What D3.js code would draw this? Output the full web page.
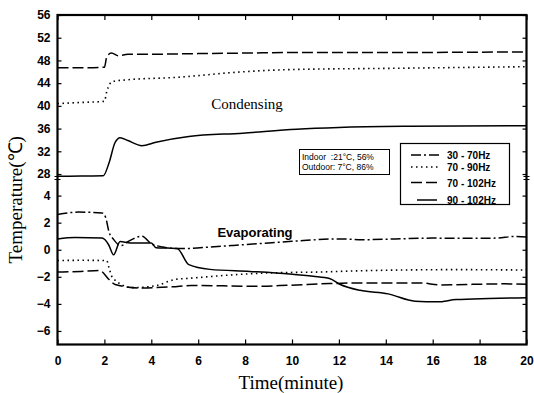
<!DOCTYPE html>
<html><head><meta charset="utf-8">
<script src="https://cdn.jsdelivr.net/npm/d3@7"></script>
<style>body{margin:0;background:#fff}</style>
</head><body>
<script>
// ---- data ----
const cond70_102_t = [0, 1.0, 2.0, 2.1, 2.3, 2.6, 3.0, 4.0, 6.0, 8.0, 10.0, 14.0, 20.0];
const cond70_102_v = [46.7, 46.7, 46.8, 48.6, 49.3, 48.8, 49.1, 49.1, 49.2, 49.3, 49.4, 49.4, 49.5];
const cond70_90_t = [0, 1.0, 2.0, 2.1, 2.35, 3.0, 5.0, 7.9, 10.0, 14.0, 20.0];
const cond70_90_v = [40.4, 40.6, 40.8, 42.5, 44.3, 44.6, 45.0, 46.0, 46.4, 46.6, 46.9];
const cond90_102_t = [0, 1.0, 1.95, 2.2, 2.45, 2.67, 3.0, 3.6, 4.2, 5.6, 7.9, 10.2, 12.0, 15.0, 20.0];
const cond90_102_v = [27.6, 27.65, 27.7, 30.0, 33.5, 34.4, 33.9, 33.0, 33.6, 34.6, 35.2, 35.9, 36.2, 36.4, 36.5];

const evap30_70_t = [0, 0.9, 1.9, 2.05, 2.2, 2.4, 2.7, 3.0, 3.6, 4.0, 4.5, 5.0, 5.6, 6.5, 7.5, 9.0, 10.0, 12.0, 13.0, 14.4, 16.0, 17.4, 18.7, 19.5, 20.0];
const evap30_70_v = [2.6, 2.78, 2.72, 2.4, 1.3, 0.75, 0.3, 0.6, 1.0, 0.45, 0.2, 0.1, 0.1, 0.2, 0.32, 0.5, 0.62, 0.8, 0.74, 0.8, 0.86, 0.84, 0.86, 0.98, 0.95];
const evap70_90_t = [0, 1.0, 2.1, 2.2, 2.35, 3.2, 4.2, 5.0, 5.7, 7.1, 8.9, 11.3, 13.0, 17.0, 20.0];
const evap70_90_v = [-0.8, -0.78, -0.8, -1.35, -2.08, -2.8, -2.65, -2.2, -2.1, -1.9, -1.72, -1.64, -1.55, -1.47, -1.5];
const evap70_102_t = [0, 1.0, 1.8, 2.2, 2.46, 3.46, 4.9, 5.7, 8.5, 9.9, 11.6, 13.0, 15.5, 16.3, 19.0, 20.0];
const evap70_102_v = [-1.65, -1.6, -1.54, -2.2, -2.57, -2.82, -2.74, -2.64, -2.7, -2.62, -2.5, -2.45, -2.45, -2.6, -2.52, -2.55];
const evap90_102_t = [0, 0.75, 1.9, 2.18, 2.39, 2.67, 3.1, 4.0, 4.2, 4.7, 5.1, 5.6, 6.5, 8.2, 9.9, 10.9, 11.6, 12.06, 12.9, 14.1, 15.25, 16.2, 17.0, 18.4, 20.0];
const evap90_102_v = [0.8, 0.9, 0.86, 0.37, -0.37, 0.6, 0.5, 0.5, 0.15, 0.12, 0.1, -1.1, -1.45, -1.6, -1.79, -1.96, -2.13, -2.57, -3.0, -3.26, -3.8, -3.85, -3.68, -3.6, -3.55];

const xTicks = [0, 2, 4, 6, 8, 10, 12, 14, 16, 18, 20];
const yTicksTop = [28, 32, 36, 40, 44, 48, 52, 56];
const yTicksBottom = [-6, -4, -2, 0, 2, 4];
const legendLabels = ["30 - 70Hz", "70 - 90Hz", "70 - 102Hz", "90 - 102Hz"];
const infoLines = ["Indoor  :21°C, 56%", "Outdoor: 7°C, 86%"];

// ---- layout ----
const W = 534, H = 393;
const L = 57.5, R = 526.5, T = 15, B = 344.5, SEAM = 178;
const svg = d3.select("body").append("svg").attr("width", W).attr("height", H);

const x = d3.scaleLinear().domain([0, 20]).range([L, R]);
const yTop = d3.scaleLinear().domain([27.3, 56]).range([SEAM, T]);
const yBot = d3.scaleLinear().domain([-7, 5.3]).range([B, SEAM]);

const dash = {
  dashdot: "10,3,2,3",
  dotted: "1.5,3.5",
  dashed: "11,4",
  solid: null
};

function drawLine(ts, vs, y, style) {
  const pts = ts.map((t, i) => [t, vs[i]]);
  const line = d3.line().x(d => x(d[0])).y(d => y(d[1])).curve(d3.curveMonotoneX);
  svg.append("path").attr("d", line(pts)).attr("fill", "none")
    .attr("stroke", "#000").attr("stroke-width", style === "dotted" ? 1.6 : 1.5)
    .attr("stroke-dasharray", dash[style]);
}

drawLine(cond70_102_t, cond70_102_v, yTop, "dashed");
drawLine(cond70_90_t, cond70_90_v, yTop, "dotted");
drawLine(cond90_102_t, cond90_102_v, yTop, "solid");
drawLine(evap30_70_t, evap30_70_v, yBot, "dashdot");
drawLine(evap70_90_t, evap70_90_v, yBot, "dotted");
drawLine(evap70_102_t, evap70_102_v, yBot, "dashed");
drawLine(evap90_102_t, evap90_102_v, yBot, "solid");

// ---- axes ----
const tickFont = "bold 12px 'Liberation Sans', Arial, sans-serif";
function styleAxis(g) {
  g.select(".domain").remove();
  g.selectAll(".tick line").attr("stroke", "#000").attr("stroke-width", 1.2);
  g.selectAll(".tick text").style("font", tickFont).attr("fill", "#000");
}
// bottom
svg.append("g").attr("transform", `translate(0,${B})`)
  .call(d3.axisBottom(x).tickValues(xTicks).tickSizeInner(-5).tickSizeOuter(0).tickPadding(12).tickFormat(d3.format("d")))
  .call(styleAxis);
// top
svg.append("g").attr("transform", `translate(0,${T})`)
  .call(d3.axisTop(x).tickValues(xTicks).tickSizeInner(-5).tickSizeOuter(0).tickFormat(""))
  .call(styleAxis);
// left
svg.append("g").attr("transform", `translate(${L},0)`)
  .call(d3.axisLeft(yTop).tickValues(yTicksTop).tickSizeInner(-4).tickSizeOuter(0).tickPadding(7).tickFormat(d3.format("d")))
  .call(styleAxis);
svg.append("g").attr("transform", `translate(${L},0)`)
  .call(d3.axisLeft(yBot).tickValues(yTicksBottom).tickSizeInner(-4).tickSizeOuter(0).tickPadding(7).tickFormat(d3.format("d")))
  .call(styleAxis);
// right
svg.append("g").attr("transform", `translate(${R},0)`)
  .call(d3.axisRight(yTop).tickValues(yTicksTop).tickSizeInner(-4).tickSizeOuter(0).tickFormat(""))
  .call(styleAxis);
svg.append("g").attr("transform", `translate(${R},0)`)
  .call(d3.axisRight(yBot).tickValues(yTicksBottom).tickSizeInner(-4).tickSizeOuter(0).tickFormat(""))
  .call(styleAxis);

// frame
svg.append("rect").attr("x", L).attr("y", T).attr("width", R - L).attr("height", B - T)
  .attr("fill", "none").attr("stroke", "#000").attr("stroke-width", 2.2);
// break marks
[L, R].forEach(px => {
  [SEAM - 1.5, SEAM + 1.5].forEach(py => {
    svg.append("line").attr("x1", px - 3).attr("x2", px + 3).attr("y1", py).attr("y2", py)
      .attr("stroke", "#000").attr("stroke-width", 1);
  });
});

// ---- titles ----
svg.append("text").attr("transform", `translate(22,${(T + B) / 2 + 20}) rotate(-90)`)
  .attr("text-anchor", "middle").style("font", "19px 'Liberation Serif', 'Times New Roman', serif")
  .text("Temperature(℃)");
svg.append("text").attr("x", 291).attr("y", 389).attr("text-anchor", "middle")
  .style("font", "19px 'Liberation Serif', 'Times New Roman', serif").text("Time(minute)");

svg.append("text").attr("x", 247).attr("y", 109).attr("text-anchor", "middle")
  .style("font", "15px 'Liberation Serif', 'Times New Roman', serif").text("Condensing");
svg.append("text").attr("x", 255).attr("y", 237).attr("text-anchor", "middle")
  .style("font", "bold 13px 'Liberation Sans Narrow', 'Liberation Sans', Arial, sans-serif").text("Evaporating");

// ---- info box ----
svg.append("rect").attr("x", 299.5).attr("y", 149.5).attr("width", 90).attr("height", 25)
  .attr("fill", "#fff").attr("stroke", "#000").attr("stroke-width", 1);
infoLines.forEach((s, i) => {
  svg.append("text").attr("x", 302).attr("y", 160 + i * 10)
    .style("font", "8.5px 'Liberation Sans', Arial, sans-serif").style("white-space", "pre")
    .attr("xml:space", "preserve").text(s);
});

// ---- legend ----
svg.append("rect").attr("x", 400.5).attr("y", 143.5).attr("width", 109).attr("height", 61)
  .attr("fill", "#fff").attr("stroke", "#000").attr("stroke-width", 1.2);
const legStyles = ["dashdot", "dotted", "dashed", "solid"];
const legY = [155, 167, 182.5, 200];
const legX1 = [411, 411, 411, 417];
const legX2 = [440, 440, 440, 437];
legendLabels.forEach((s, i) => {
  svg.append("line").attr("x1", legX1[i]).attr("x2", legX2[i]).attr("y1", legY[i]).attr("y2", legY[i])
    .attr("stroke", "#000").attr("stroke-width", 1.5).attr("stroke-dasharray", dash[legStyles[i]]);
  svg.append("text").attr("x", 447).attr("y", legY[i] + 4)
    .style("font", "bold 10px 'Liberation Sans', Arial, sans-serif").text(s);
});
</script>
</body></html>
